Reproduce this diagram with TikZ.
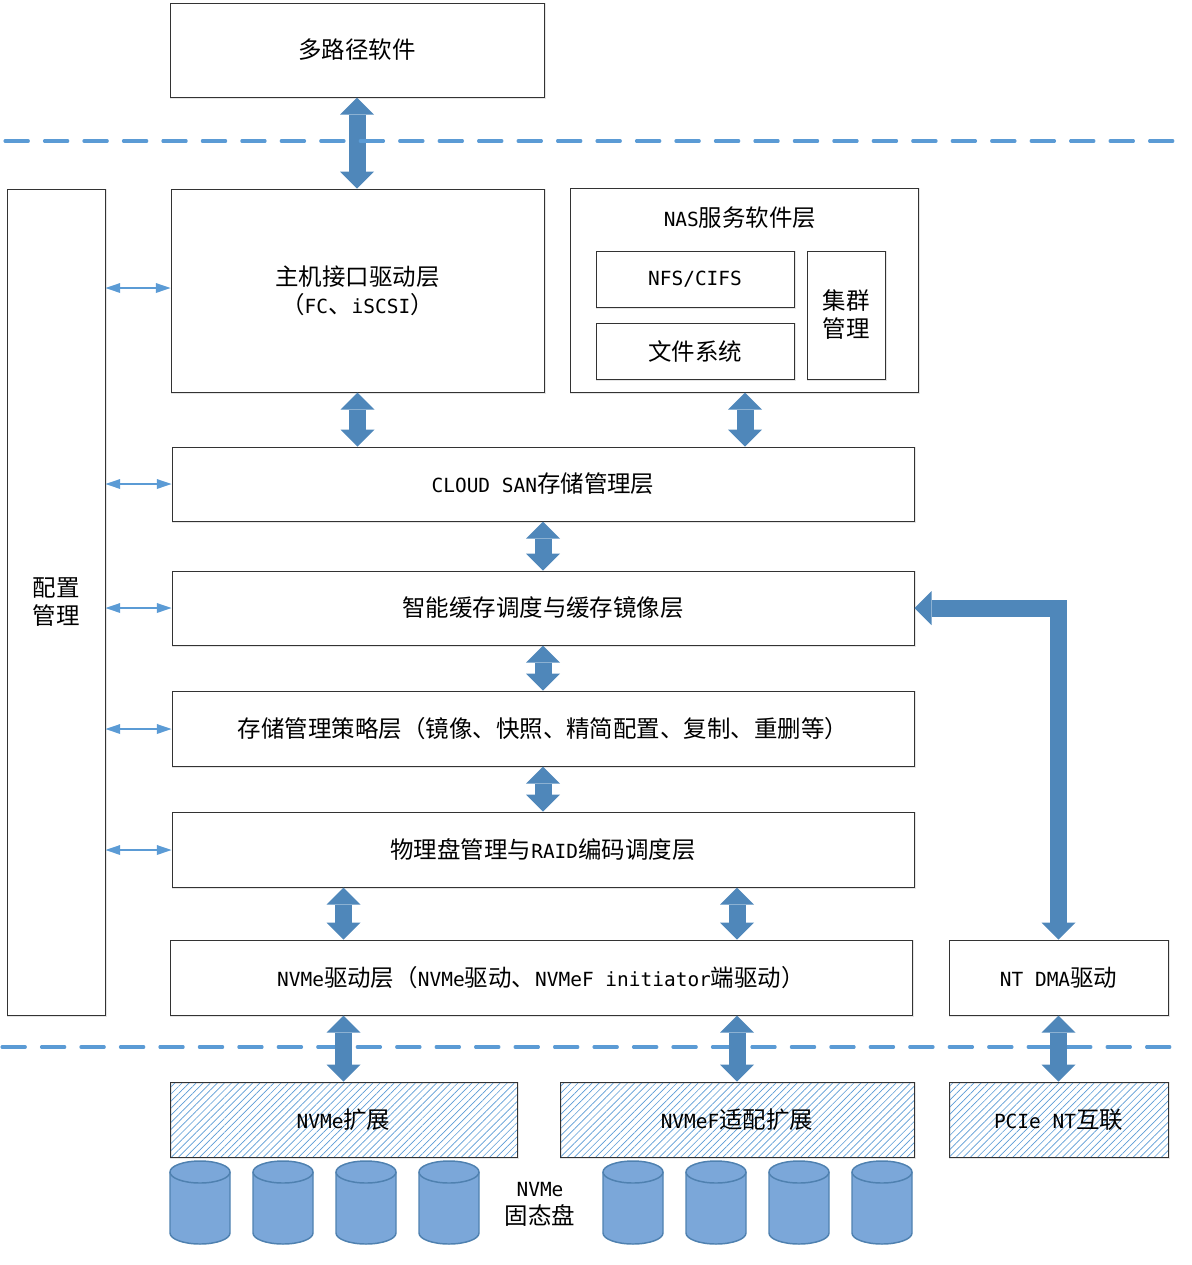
\documentclass[tikz,border=0pt]{standalone}
\usepackage{fontspec}
\setmainfont{DejaVu Sans Mono}
\newfontfamily\cjk{Noto Sans CJK SC}
\usetikzlibrary{arrows.meta,patterns.meta,calc}
\newcommand{\C}[1]{{\fontsize{17.6}{21}\selectfont\cjk #1}}
\definecolor{arrowblue}{HTML}{4F87BA}
\definecolor{linkblue}{HTML}{5B9BD5}
\definecolor{cylfill}{HTML}{7BA7D9}
\definecolor{cylline}{HTML}{4F81B0}
\tikzset{
  box/.style={draw=black!80,line width=0.75pt,fill=white,inner sep=0pt,align=center,
    font=\fontsize{14.6}{21}\selectfont,
    preaction={draw=black!10,line width=1pt,fill=none,transform canvas={xshift=0.8pt,yshift=-0.8pt}}},
  hatchbox/.style={box,fill=none,pattern={Lines[angle=45,distance=3.75pt,line width=0.5pt]},pattern color=linkblue},
  label/.style={inner sep=0pt,align=center,font=\fontsize{14.6}{21}\selectfont},
  bigarrow/.style={draw=arrowblue,line width=12.75pt,line join=miter,
    {Triangle[width=25.5pt,length=12.75pt,fill=arrowblue,line width=0pt]}-{Triangle[width=25.5pt,length=12.75pt,fill=arrowblue,line width=0pt]}},
  thinarrow/.style={draw=linkblue,line width=0.9pt,
    {Triangle[width=7.5pt,length=11pt,fill=linkblue,line width=0pt]}-{Triangle[width=7.5pt,length=11pt,fill=linkblue,line width=0pt]}},
  divider/.style={draw=linkblue,line width=2.3pt,line cap=round,dash pattern=on 17.5pt off 12.1pt},
  cyl/.style={draw=cylline,line width=1.1pt,fill=cylfill}
}
% \bx{name}{x1}{y1}{x2}{y2}{style}{text}
\newcommand{\bx}[7]{%
  \pgfmathsetmacro{\bxw}{(#4-#2)*0.75}%
  \pgfmathsetmacro{\bxh}{(#5-#3)*0.75}%
  \node[#6,minimum width=\bxw pt,minimum height=\bxh pt] (#1) at ({(#2+#4)/2},{(#3+#5)/2}) {#7};}
% the y axis points down here, so arcs through 90 degrees bulge downwards
\newcommand{\drum}[1]{%
  \draw[cyl] (#1,1172) -- (#1,1233) arc[start angle=180,end angle=0,x radius=30,y radius=11]
     -- (#1+60,1172) arc[start angle=0,end angle=-180,x radius=30,y radius=11] -- cycle;
  \draw[cyl,fill=none] (#1,1172) arc[start angle=180,end angle=0,x radius=30,y radius=11];}
\begin{document}
\begin{tikzpicture}[x=0.75pt,y=-0.75pt]
\useasboundingbox (0,0) rectangle (1192,1265);

% bottom divider lies beneath the arrows
\coordinate (divBL) at (2,1047);
\coordinate (divBR) at (1175,1047);
\draw[divider] (divBL) -- (divBR);

\bx{multi}{170}{3}{544}{97}{box}{\C{多路径软件}}
\bx{config}{7}{189}{105}{1015}{box}{\C{配置}\\\C{管理}}
\bx{host}{171}{189}{544}{392}{box}{\C{主机接口驱动层}\\\C{（}FC\C{、}iSCSI\C{）}}
\bx{nas}{570}{188}{918}{392}{box}{}
\node[label] (nastitle) at (740,218) {NAS\C{服务软件层}};
\bx{nfs}{596}{251}{794}{307}{box}{NFS/CIFS}
\bx{fs}{596}{323}{794}{379}{box}{\C{文件系统}}
\bx{cluster}{807}{251}{885}{379}{box}{\C{集群}\\\C{管理}}
\bx{cloud}{172}{447}{914}{521}{box}{CLOUD SAN\C{存储管理层}}
\bx{cache}{172}{571}{914}{645}{box}{\C{智能缓存调度与缓存镜像层}}
\bx{policy}{172}{691}{914}{766}{box}{\C{存储管理策略层（镜像、快照、精简配置、复制、重删等）}}
\bx{raid}{172}{812}{914}{887}{box}{\C{物理盘管理与}RAID\C{编码调度层}}
\bx{nvme}{170}{940}{912}{1015}{box}{NVMe\C{驱动层（}NVMe\C{驱动、}NVMeF initiator\C{端驱动）}}
\bx{nt}{949}{940}{1168}{1015}{box}{NT DMA\C{驱动}}
\bx{ext}{170}{1082}{517}{1157}{hatchbox}{NVMe\C{扩展}}
\bx{extf}{560}{1082}{914}{1157}{hatchbox}{NVMeF\C{适配扩展}}
\bx{pcie}{949}{1082}{1168}{1157}{hatchbox}{PCIe NT\C{互联}}

\foreach \xx in {170,253,336,419,603,686,769,852} {\drum{\xx}}
\node[label] (ssd) at (540,1204) {NVMe\\\C{固态盘}};

% heavy double arrows
\draw[bigarrow] (multi.south) -- (multi.south |- host.north);
\draw[bigarrow] (host.south) -- (host.south |- cloud.north);
\draw[bigarrow] ([xshift=0.75pt]nas.south) -- ([xshift=0.75pt]nas.south |- cloud.north);
\draw[bigarrow] (cloud.south) -- (cache.north);
\draw[bigarrow] (cache.south) -- (policy.north);
\draw[bigarrow] (policy.south) -- (raid.north);
\draw[bigarrow] (raid.south -| ext.north) -- (nvme.north -| ext.north);
\draw[bigarrow] (raid.south -| extf.north) -- (nvme.north -| extf.north);
\draw[bigarrow] (nvme.south -| ext.north) -- (ext.north);
\draw[bigarrow] (nvme.south -| extf.north) -- (extf.north);
\draw[bigarrow] (nt.south) -- (pcie.north);
\draw[bigarrow] (nt.north) |- (cache.east);

% thin links from the management column
\foreach \target/\yy in {host/288,cloud/484,cache/608,policy/729,raid/850} {
  \draw[thinarrow] (config.east |- 0,\yy) -- (\target.west |- 0,\yy);
}

% top divider lies over the arrow
\coordinate (divTL) at (5,141);
\coordinate (divTR) at (1178,141);
\draw[divider] (divTL) -- (divTR);
\end{tikzpicture}
\end{document}
